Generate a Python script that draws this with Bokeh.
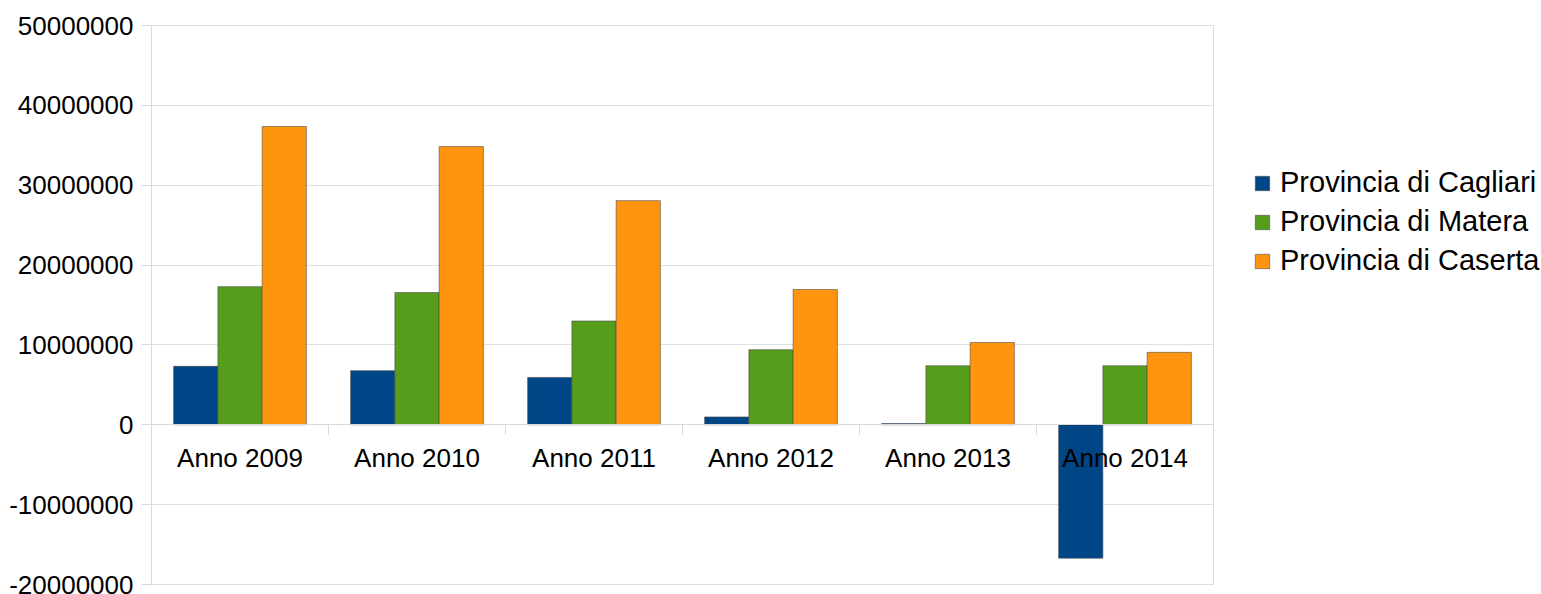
from bokeh.plotting import figure
from bokeh.models import ColumnDataSource, FactorRange, Range1d, Legend, LegendItem, FixedTicker, NumeralTickFormatter
from bokeh.transform import dodge
from bokeh.layouts import row
from bokeh.embed import file_html
from bokeh.resources import INLINE

years = ["Anno 2009", "Anno 2010", "Anno 2011", "Anno 2012", "Anno 2013", "Anno 2014"]
cagliari = [7320000, 6780000, 5930000, 990000, 150000, -16700000]
matera = [17300000, 16560000, 13000000, 9400000, 7400000, 7400000]
caserta = [37350000, 34840000, 28070000, 16940000, 10300000, 9070000]
series_names = ["Provincia di Cagliari", "Provincia di Matera", "Provincia di Caserta"]
colors = ["#004586", "#579d1c", "#ff950e"]
y_ticks = [-20000000, -10000000, 0, 10000000, 20000000, 30000000, 40000000, 50000000]

src = ColumnDataSource(dict(x=years, cagliari=cagliari, matera=matera, caserta=caserta))

FONT = "Liberation Sans"
OUTLINE = dict(line_color="#444444", line_alpha=0.55, line_width=1)

p = figure(x_range=FactorRange(*years, range_padding=0), y_range=Range1d(-20000000, 50000000),
           width=1214, height=594, output_backend="svg", toolbar_location=None,
           min_border_left=151, min_border_right=1, min_border_top=25, min_border_bottom=10)

bars = []
for key, off, col in zip(["cagliari", "matera", "caserta"], [-0.25, 0.0, 0.25], colors):
    r = p.vbar(x=dodge("x", off, range=p.x_range), top=key, bottom=0, width=0.25, source=src,
               fill_color=col, **OUTLINE)
    bars.append(r)

# category boundary ticks on x axis at zero
p.segment(x0=[1, 2, 3, 4, 5], x1=[1, 2, 3, 4, 5], y0=[0] * 5, y1=[-1250000] * 5,
          line_color="#d9d9d9", line_width=1)

# x axis at zero
p.xaxis.fixed_location = 0
p.xaxis.axis_line_color = "#d9d9d9"
p.xaxis.major_tick_line_color = None
p.xaxis.minor_tick_line_color = None
p.xaxis.major_tick_out = 0
p.xaxis.major_tick_in = 0
p.xaxis.major_label_standoff = 18
p.xaxis.major_label_text_font = FONT
p.xaxis.major_label_text_font_size = "26px"
p.xaxis.major_label_text_color = "#000000"

p.yaxis.ticker = FixedTicker(ticks=y_ticks)
p.yaxis.formatter = NumeralTickFormatter(format="0")
p.yaxis.axis_line_color = "#d9d9d9"
p.yaxis.major_tick_line_color = "#d9d9d9"
p.yaxis.major_tick_out = 10
p.yaxis.major_tick_in = 0
p.yaxis.minor_tick_line_color = None
p.yaxis.major_label_standoff = 8
p.yaxis.major_label_text_font = FONT
p.yaxis.major_label_text_font_size = "26px"
p.yaxis.major_label_text_color = "#000000"

p.xgrid.grid_line_color = None
p.ygrid.grid_line_color = "#e0e0e0"
p.ygrid.ticker = FixedTicker(ticks=y_ticks)
p.outline_line_color = "#dddddd"

# legend panel on the right (legend swatches come from off-view proxy bars)
p2 = figure(width=327, height=594, output_backend="svg", toolbar_location=None,
            x_range=Range1d(0, 1), y_range=Range1d(0, 1), min_border=0)
p2.axis.visible = False
p2.grid.grid_line_color = None
p2.outline_line_color = None
proxies = [p2.vbar(x=[5], top=[6], bottom=[5], width=0.1, fill_color=c, **OUTLINE) for c in colors]

legend = Legend(items=[LegendItem(label=n, renderers=[r]) for n, r in zip(series_names, proxies)],
                location=(39, 307), orientation="vertical",
                label_text_font=FONT, label_text_font_size="29px", label_text_color="#000000",
                glyph_width=18, glyph_height=18, label_standoff=9, spacing=6,
                padding=0, margin=0, border_line_color=None, background_fill_alpha=0)
p2.add_layout(legend, "center")

layout = row(p, p2, spacing=0)
open("out.html", "w").write(file_html(layout, INLINE))
